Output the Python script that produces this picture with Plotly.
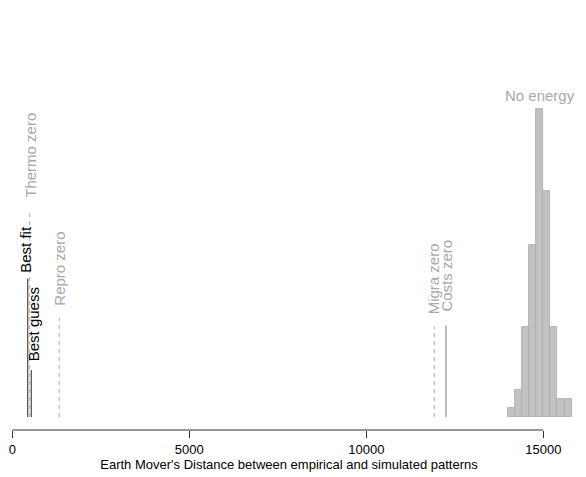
import plotly.graph_objects as go

# Histogram of "No energy" simulations
bin_starts = [14000, 14200, 14400, 14600, 14800, 15000, 15200, 15400, 15600]
bin_width = 200
bin_counts = [1, 3, 10, 19, 34, 25, 10, 2, 2]

# Reference scenarios (vertical markers)
ref_names = ["Best fit", "Best guess", "Thermo zero", "Repro zero", "Migra zero", "Costs zero"]
ref_values = [435, 537, 491, 1328, 11921, 12251]
ref_heights = [15.3, 5.2, 22.7, 10.9, 10.0, 10.1]
ref_dash = ["solid", "solid", "4px,4px", "4px,4px", "4px,4px", "solid"]
ref_line_colors = ["#555555", "#555555", "#bdbdbd", "#bdbdbd", "#bdbdbd", "#9a9a9a"]
ref_text_colors = ["#000000", "#000000", "#a8a8a8", "#a8a8a8", "#a8a8a8", "#a8a8a8"]
ref_xshift = [-3, 3, 0, 0, -1, 1]
ref_yshift = [4, 7, 12, 11, 10, 12]

x_ticks = [0, 5000, 10000, 15000]
x_title = "Earth Mover's Distance between empirical and simulated patterns"
hist_label = "No energy"

FONT = "Arial, Liberation Sans, sans-serif"

fig = go.Figure()

fig.add_trace(go.Bar(
    x=[s + bin_width / 2 for s in bin_starts],
    y=bin_counts,
    width=[bin_width] * len(bin_starts),
    marker=dict(color="#c2c2c2", line=dict(color="#a8a8a8", width=0.8)),
    showlegend=False, hoverinfo="skip",
))

for name, v, h, d, lc in zip(ref_names, ref_values, ref_heights, ref_dash, ref_line_colors):
    fig.add_trace(go.Scatter(
        x=[v, v], y=[0, h], mode="lines",
        line=dict(color=lc, width=1.3, dash=d),
        showlegend=False, hoverinfo="skip", name=name,
    ))

annotations = []
for name, v, h, tc, xs, ys in zip(ref_names, ref_values, ref_heights, ref_text_colors, ref_xshift, ref_yshift):
    annotations.append(dict(
        x=v, y=h, xref="x", yref="y", text=name, textangle=-90,
        showarrow=False, xanchor="center", yanchor="bottom",
        xshift=xs, yshift=ys, font=dict(family=FONT, size=15, color=tc),
    ))

# label above the histogram
peak_idx = bin_counts.index(max(bin_counts))
annotations.append(dict(
    x=bin_starts[peak_idx] + bin_width / 2, y=max(bin_counts), xref="x", yref="y",
    text=hist_label, showarrow=False, xanchor="center", yanchor="bottom", yshift=3,
    font=dict(family=FONT, size=15, color="#a8a8a8"),
))

fig.update_layout(
    width=586, height=477,
    margin=dict(l=5, r=13, t=40, b=47),
    plot_bgcolor="white", paper_bgcolor="white",
    bargap=0,
    annotations=annotations,
    font=dict(family=FONT, size=13, color="#000000"),
    shapes=[dict(type="line", xref="x", yref="paper", x0=x_ticks[0], x1=x_ticks[-1],
                 y0=0, y1=0, line=dict(color="#333333", width=1))],
    xaxis=dict(
        range=[-206, 15839], tickvals=x_ticks, ticktext=[str(t) for t in x_ticks],
        ticks="outside", ticklen=7, tickcolor="#333333", tickwidth=1,
        showline=False, showgrid=False, zeroline=False,
        tickfont=dict(family=FONT, size=13, color="#000000"),
        title=dict(text=x_title, standoff=2, font=dict(family=FONT, size=13, color="#000000")),
    ),
    yaxis=dict(
        range=[-1.436, 41.66], visible=False, showgrid=False, zeroline=False,
    ),
)

fig.write_html("out.html")
